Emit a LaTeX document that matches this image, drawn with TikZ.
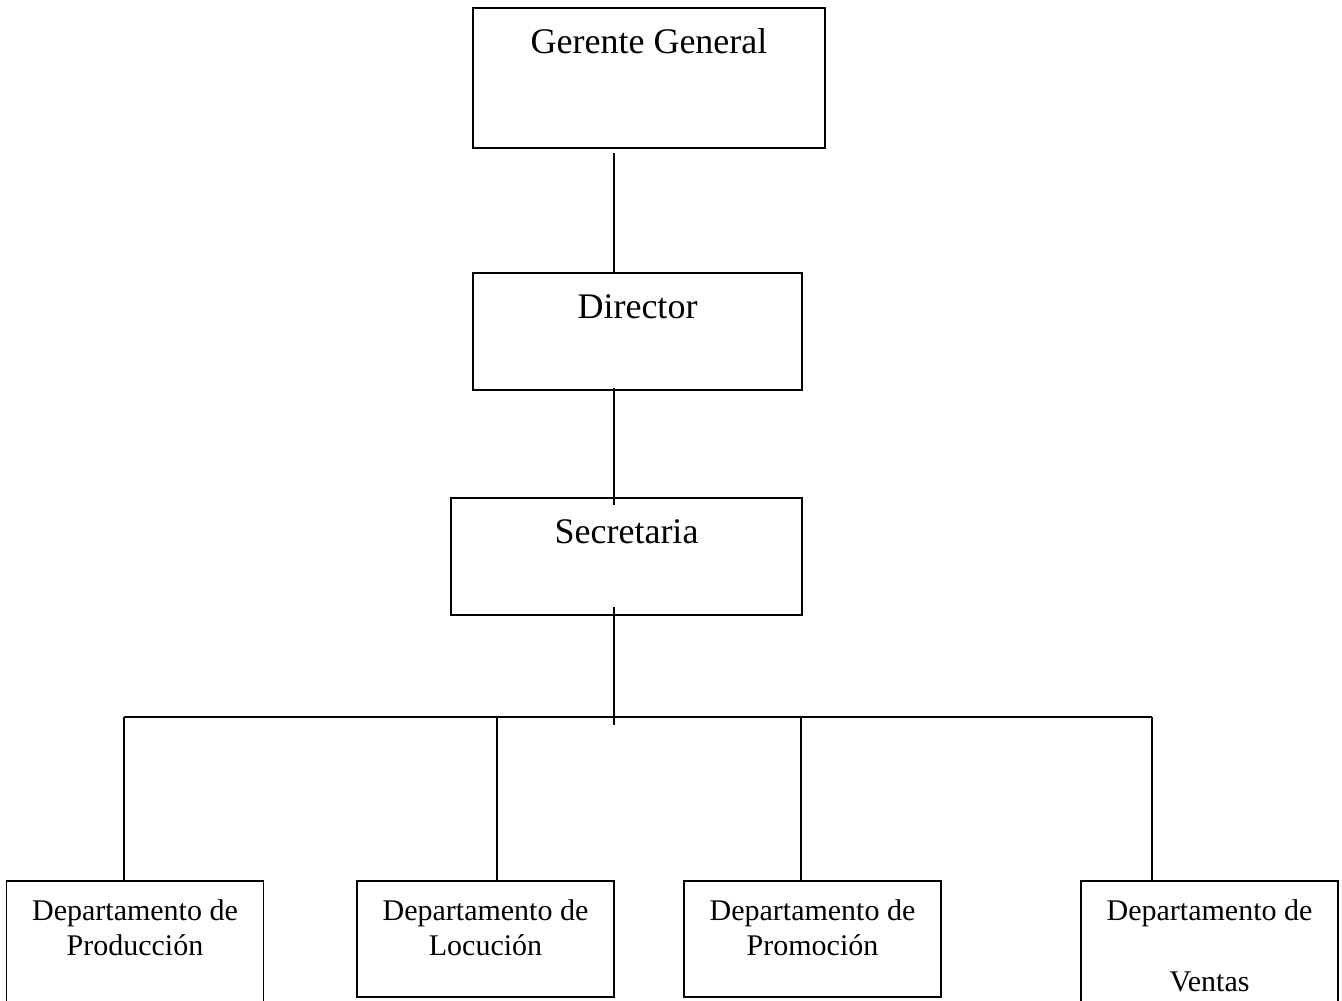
\documentclass[tikz,border=0pt]{standalone}
\usepackage{fontspec}
\setmainfont{Liberation Serif}
\usetikzlibrary{calc}
\begin{document}
\begin{tikzpicture}[x=1pt,y=-1pt,
  box/.style={draw=black, line width=1.5pt, inner sep=0pt, outer sep=0pt},
  big/.style={font=\fontsize{36}{43}\selectfont, anchor=base, inner sep=0pt},
  small/.style={font=\fontsize{30}{35}\selectfont, anchor=base, inner sep=0pt},
  conn/.style={line width=1.5pt, draw=black}]
\useasboundingbox (0,0) rectangle (1342,1001);
\fill[white] (0,0) rectangle (1342,1001);
\clip (0,0) rectangle (1342,1001);
% boxes
\node[box, minimum width=352pt, minimum height=140pt] (G) at (649,78) {};
\node[box, minimum width=329pt, minimum height=117pt] (D) at (637.5,331.5) {};
\node[box, minimum width=351pt, minimum height=117pt] (S) at (626.5,556.5) {};
\node[box, minimum width=257pt, minimum height=150pt] (P) at (135,956) {};
\node[box, minimum width=257pt, minimum height=116pt] (L) at (485.5,939) {};
\node[box, minimum width=257pt, minimum height=116pt] (M) at (812.5,939) {};
\node[box, minimum width=257pt, minimum height=150pt] (V) at (1209.5,956) {};
% texts
\node[big] (Gt) at ([yshift=-45pt]G.north) {Gerente General};
\node[big] (Dt) at ([yshift=-45pt]D.north) {Director};
\node[big] (St) at ([yshift=-45pt]S.north) {Secretaria};
\node[small] (Pa) at ([yshift=-39pt]P.north) {Departamento de};
\node[small] (Pb) at ([yshift=-74pt]P.north) {Producción};
\node[small] (La) at ([yshift=-39pt]L.north) {Departamento de};
\node[small] (Lb) at ([yshift=-74pt]L.north) {Locución};
\node[small] (Ma) at ([yshift=-39pt]M.north) {Departamento de};
\node[small] (Mb) at ([yshift=-74pt]M.north) {Promoción};
\node[small] (Va) at ([yshift=-39pt]V.north) {Departamento de};
\node[small] (Vb) at ([yshift=-110pt]V.north) {Ventas};
% connectors
\coordinate (trunk) at (614,717);
\coordinate (b1) at (124,717);
\coordinate (b2) at (497,717);
\coordinate (b3) at (801,717);
\coordinate (b4) at (1152,717);
\draw[conn] ($(G.south -| trunk)+(0,5)$) -- (D.north -| trunk);
\draw[conn] ($(D.south -| trunk)+(0,-2)$) -- ($(S.north -| trunk)+(0,7)$);
\draw[conn] ($(S.south -| trunk)+(0,-8)$) -- ($(trunk)+(0,8)$);
\draw[conn] (b1) -- (b4);
\draw[conn] (b1) -- (b1 |- P.north);
\draw[conn] (b2) -- (b2 |- L.north);
\draw[conn] (b3) -- (b3 |- M.north);
\draw[conn] (b4) -- (b4 |- V.north);
\end{tikzpicture}
\end{document}
